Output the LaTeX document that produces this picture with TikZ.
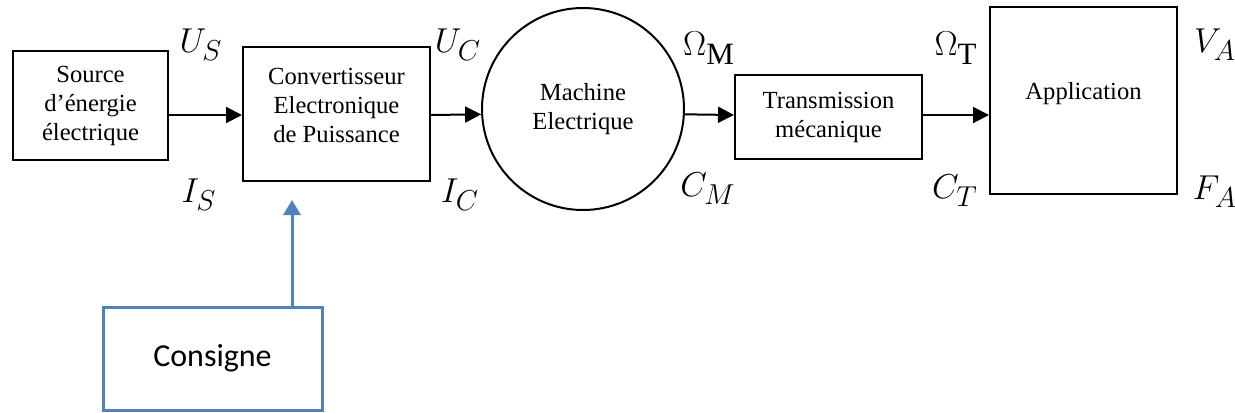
\documentclass[tikz,border=0pt]{standalone}
\usepackage{fontspec}
\setmainfont{Liberation Serif}
\newfontfamily\tms{Liberation Serif}
\newfontfamily\calib{Carlito}
\DeclareMathSizes{18.5}{18.5}{15.5}{12}
\usetikzlibrary{arrows.meta}
\definecolor{cblue}{RGB}{79,129,189}
\begin{document}
\begin{tikzpicture}[x=0.5pt,y=-0.5pt,
  blk/.style={draw=black,line width=1pt,inner sep=0pt,align=center,font=\tms\fontsize{12.3}{14.5}\selectfont},
  txt/.style={align=center,inner sep=0pt,font=\tms\fontsize{12.3}{14.5}\selectfont},
  var/.style={inner sep=0pt,font=\fontsize{18.5}{22}\selectfont},
  flow/.style={draw=black,line width=1pt,-{Triangle[length=8pt,width=8pt]}},
  ctlbox/.style={draw=cblue,line width=1.5pt,inner sep=0pt,font=\calib\fontsize{16}{19}\selectfont},
  ctl/.style={draw=cblue,line width=1.5pt,-{Triangle[length=7.5pt,width=8.5pt]}},
  ]
\useasboundingbox (0,0) rectangle (1235,412);
% blocks
\node[blk,minimum width=77.5pt,minimum height=54.5pt] (src) at (90.5,105.5) {Source\\d’énergie\\électrique};
\node[blk,minimum width=93.5pt,minimum height=67pt] (conv) at (336.5,114) {};
\node[txt] (convt) at (336.5,105) {Convertisseur\\Electronique\\de Puissance};
\node[blk,circle,minimum size=101pt] (mach) at (583,109) {Machine\\Electrique};
\node[blk,minimum width=93.5pt,minimum height=42pt] (trans) at (828.5,117) {Transmission\\mécanique};
\node[blk,minimum width=93.5pt,minimum height=93.5pt] (app) at (1083.5,100.5) {};
\node[txt] (appt) at (1083.5,94) {Application};
\node[ctlbox,minimum width=109.5pt,minimum height=51.5pt] (cons) at (212.5,358.5) {Consigne};
% connectors
\coordinate (lvl) at (0,115);
\draw[flow] (src.east |- lvl) -- (conv.west |- lvl);
\draw[flow] (conv.east |- lvl) -- (mach.183.4);
\draw[flow] (mach.-3.4) -- (trans.west |- lvl);
\draw[flow] (trans.east |- lvl) -- (app.west |- lvl);
\coordinate (ctip) at (292,200);
\draw[ctl] (cons.north -| ctip) -- (ctip);
% variables
\node[var] (us) at (201,45) {$U_S$};
\node[var] (is) at (199,195) {$I_S$};
\node[var] (uc) at (458,45) {$U_C$};
\node[var] (ic) at (460,195) {$I_C$};
\node[var] (om) at (709,48) {$\Omega_{\mathrm{M}}$};
\node[var] (cm) at (708,189) {$C_M$};
\node[var] (ot) at (956,48) {$\Omega_{\mathrm{T}}$};
\node[var] (ct) at (955,191) {$C_T$};
\node[var] (va) at (1215,45) {$V_A$};
\node[var] (fa) at (1215,192) {$F_A$};
\end{tikzpicture}
\end{document}
